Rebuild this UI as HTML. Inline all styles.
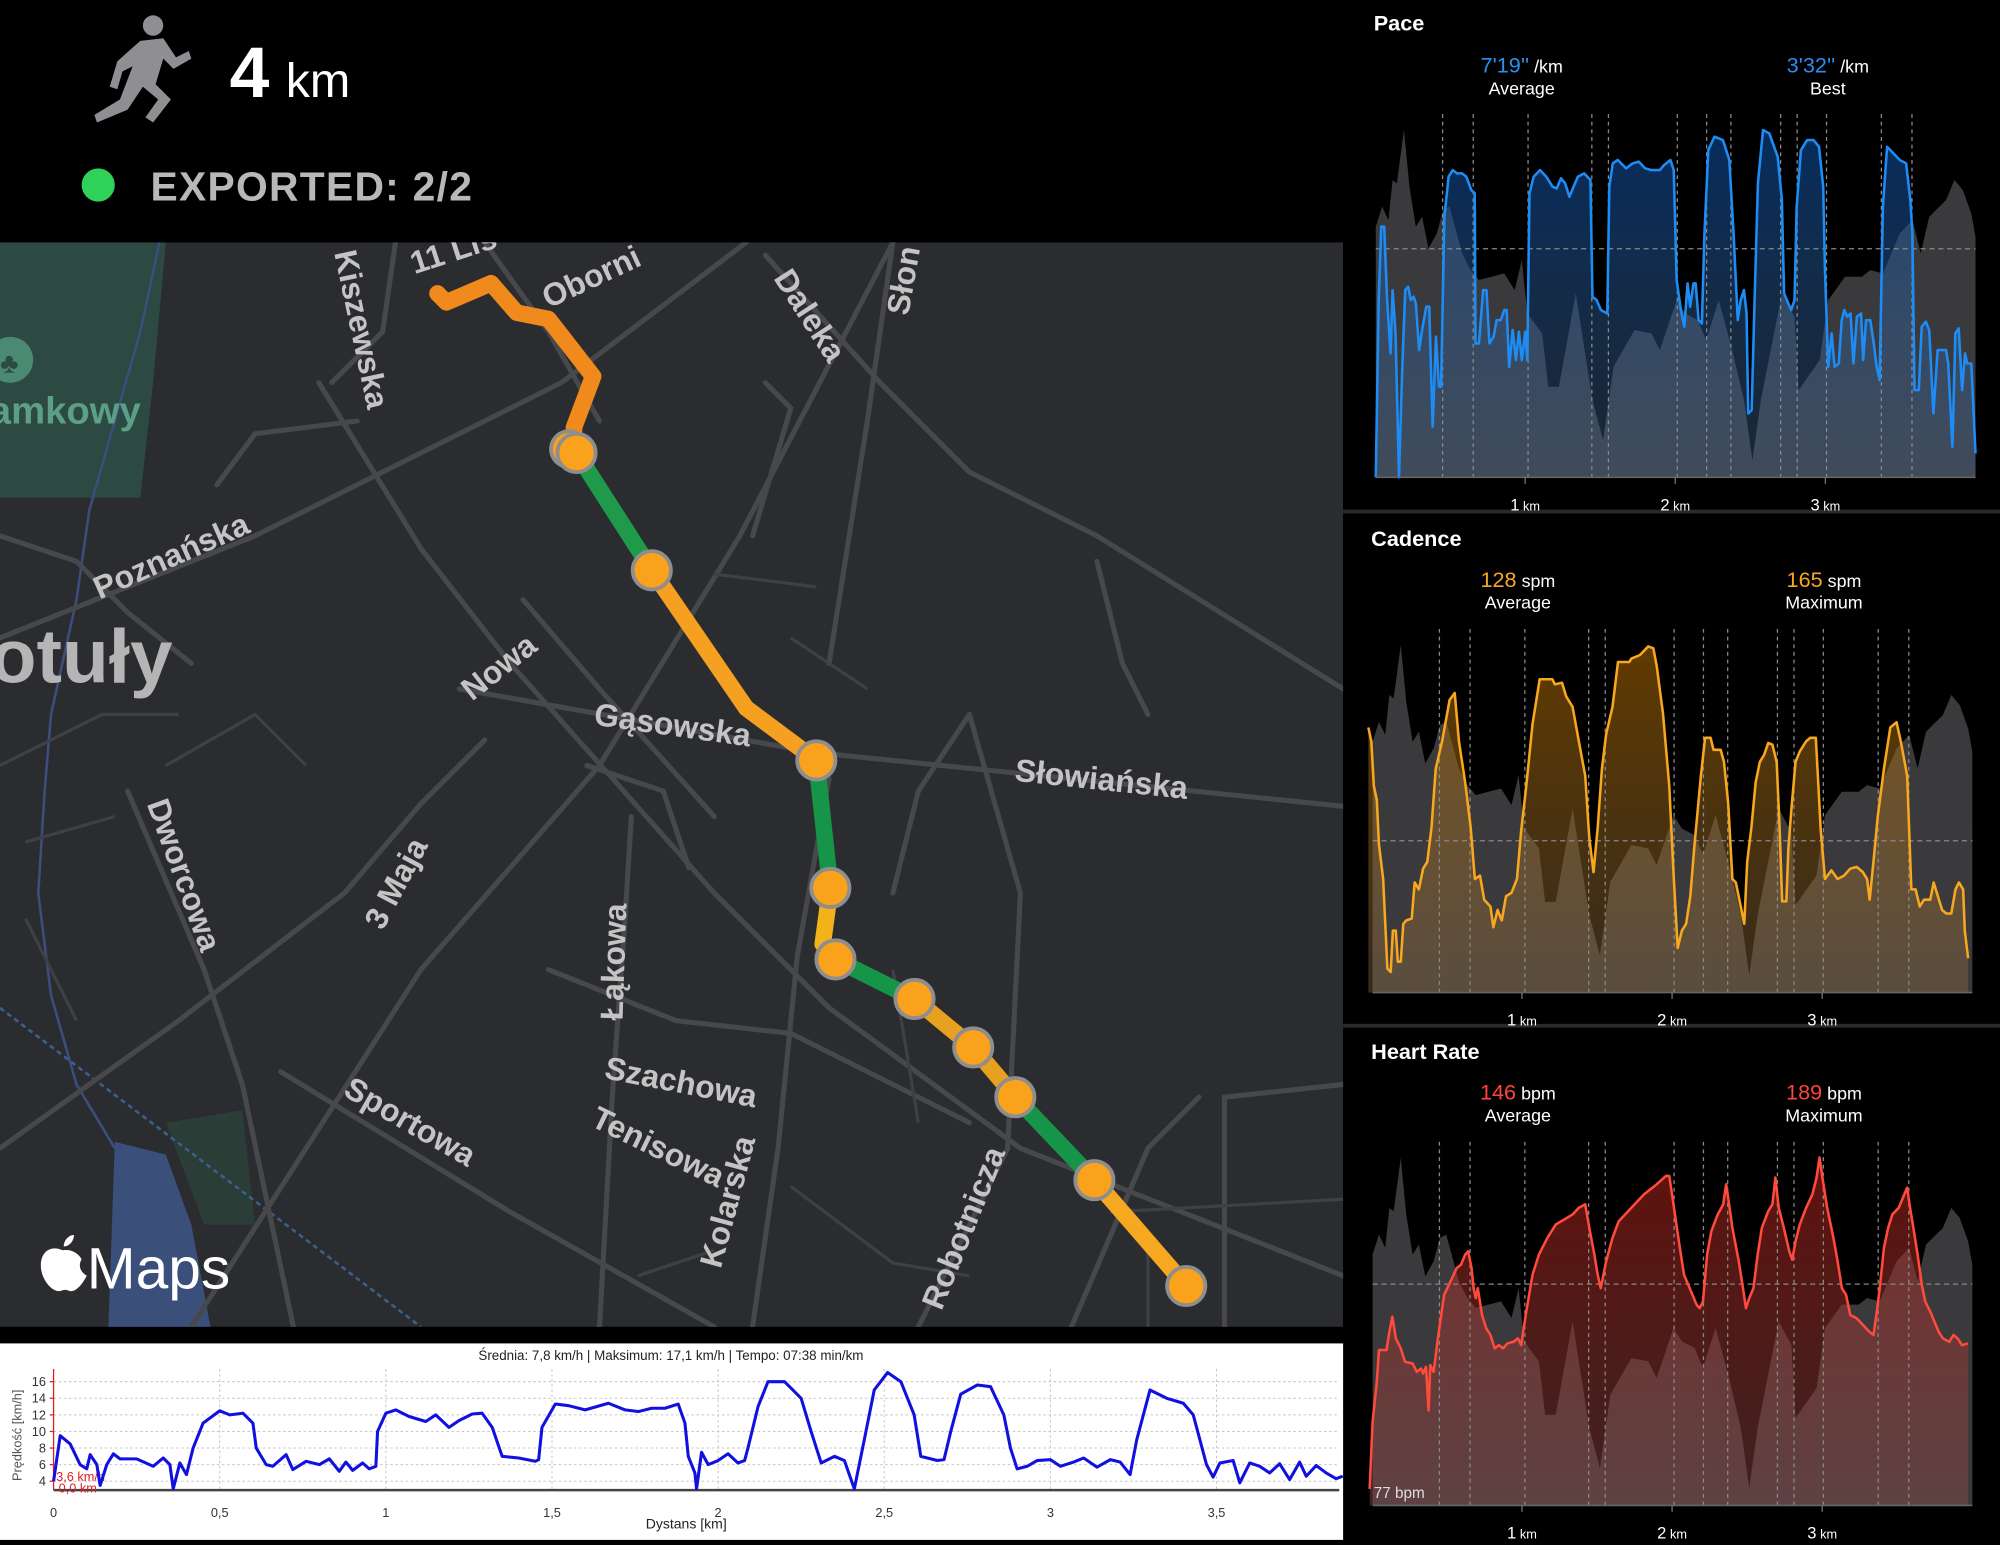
<!DOCTYPE html>
<html><head><meta charset="utf-8">
<style>
html,body{margin:0;padding:0;background:#000;}
body{width:2000px;height:1545px;overflow:hidden;}
svg{display:block;font-family:"Liberation Sans",sans-serif;}
</style></head>
<body>
<svg id="s" width="2000" height="1545" viewBox="0 0 1568 1211" preserveAspectRatio="none" xmlns="http://www.w3.org/2000/svg">
<defs>
<linearGradient id="gb" x1="0" y1="0" x2="0" y2="1"><stop offset="0" stop-color="#0a4a9a" stop-opacity="0.6"/><stop offset="1" stop-color="#4a6a90" stop-opacity="0.35"/></linearGradient>
<linearGradient id="go" x1="0" y1="0" x2="0" y2="1"><stop offset="0" stop-color="#b06a00" stop-opacity="0.55"/><stop offset="1" stop-color="#8a6a40" stop-opacity="0.4"/></linearGradient>
<linearGradient id="gr" x1="0" y1="0" x2="0" y2="1"><stop offset="0" stop-color="#b02018" stop-opacity="0.55"/><stop offset="1" stop-color="#8a4a48" stop-opacity="0.45"/></linearGradient>
<clipPath id="mapclip"><rect x="0" y="190" width="1053" height="850"/></clipPath>
</defs>
<rect width="1568" height="1211" fill="#000"/>
<!-- header -->
<g fill="#8e8e93">
<circle cx="120" cy="20" r="8"/>
<path d="M110 32 L128 30 L138 45 L148 40 L150 46 L136 54 L128 46 L122 66 L134 78 L120 96 L114 92 L124 78 L112 68 L100 86 L76 96 L74 90 L94 78 L104 52 L96 56 L92 70 L86 68 L92 48 Z"/>
</g>
<text x="180" y="76" fill="#fff" font-size="56" font-weight="bold">4</text>
<text x="224" y="76" fill="#fff" font-size="38">km</text>
<circle cx="77" cy="145" r="13" fill="#30d158"/>
<text x="118" y="157" fill="#b8b8b8" font-size="32" font-weight="bold" letter-spacing="1">EXPORTED: 2/2</text>
<!-- map -->
<g clip-path="url(#mapclip)">
<rect x="0" y="190" width="1053" height="850" fill="#2b2c2f"/>
<path d="M0 190 L130 190 L120 300 L110 390 L0 390 Z" fill="#2c4a42"/>
<path d="M90 895 L130 905 L150 960 L165 1040 L85 1040 Z" fill="#3a4f7a"/>
<path d="M130 880 L190 870 L200 960 L160 960 Z" fill="#2a3d36"/>
<g stroke="#3b4e7e" stroke-width="2" fill="none">
<path d="M125 190 L110 260 L90 330 L70 400 L60 470 L40 560 L35 620 L30 700 L40 780 L60 850 L90 900"/>
</g>
<path d="M0 790 L330 1040" stroke="#3d5f8a" stroke-width="2" stroke-dasharray="4 3" fill="none"/>
<g stroke="#46484c" stroke-width="4" fill="none" stroke-linecap="round">
<path d="M0 500 L200 420 L440 300 L585 190"/>
<path d="M150 1040 L330 760 L470 600 L580 420 L700 190"/>
<path d="M360 540 L640 590 L1053 632"/>
<path d="M250 300 L330 430 L400 520 L480 610 L560 700 L650 790 L800 900 L1053 1000"/>
<path d="M100 620 L160 760 L190 850 L230 1040"/>
<path d="M220 840 L400 950 L560 1040"/>
<path d="M410 470 L470 540 L560 640"/>
<path d="M0 900 L140 800 L270 700 L330 630 L380 580"/>
<path d="M720 1040 L790 900 L800 700 L760 560"/>
<path d="M590 1040 L610 900 L625 750 L650 610"/>
<path d="M470 1040 L480 860 L490 720 L495 640"/>
<path d="M700 190 L680 330 L650 520"/>
<path d="M600 200 L690 300 L760 370 L860 420 L1053 540"/>
<path d="M380 190 L430 260 L470 330"/>
<path d="M430 760 L530 800 L620 810 L760 880"/>
<path d="M460 600 L520 620 L540 680"/>
<path d="M260 300 L300 260 L310 190"/>
<path d="M960 1040 L960 860 L1053 850"/>
<path d="M840 1040 L900 900 L940 860"/>
<path d="M170 380 L200 340 L280 330"/>
<path d="M0 420 L60 440 L100 480 L150 520"/>
<path d="M860 440 L880 520 L900 560"/>
<path d="M760 560 L720 620 L700 700"/>
<path d="M600 300 L620 320 L590 420"/>
</g>
<g stroke="#3e4044" stroke-width="2.5" fill="none">
<path d="M0 600 L80 560 L140 560"/><path d="M20 660 L90 640"/><path d="M20 720 L60 800"/>
<path d="M620 930 L700 990 L760 1000"/><path d="M870 950 L1053 940"/><path d="M900 980 L900 1040"/>
<path d="M560 450 L640 460"/><path d="M620 500 L680 540"/><path d="M130 600 L200 560 L240 600"/>
<path d="M700 760 L720 880"/><path d="M500 1000 L560 980"/>
</g>
<!-- route -->
<g fill="none" stroke-linecap="round" stroke-linejoin="round" stroke-width="13">
<path d="M343 230 L350 237 L385 222 L405 245 L430 250 L465 295 L450 335 L450 352" stroke="#f08a1c"/>
<path d="M452 355 L511 447" stroke="#1e9a4a"/>
<path d="M511 447 L585 555 L640 596" stroke="#f5a020"/>
<path d="M640 596 L651 696" stroke="#169448"/>
<path d="M651 696 L645 740 L655 752" stroke="#f2b21a"/>
<path d="M655 752 L717 783" stroke="#169448"/>
<path d="M717 783 L763 821 L796 860" stroke="#e8a020"/>
<path d="M796 860 L858 925" stroke="#169448"/>
<path d="M858 925 L930 1008" stroke="#f5a820"/>
</g>
<g fill="#fba21c" stroke="#8e8e8e" stroke-width="3">
<circle cx="446" cy="352" r="14"/>
<circle cx="452" cy="355" r="15"/><circle cx="511" cy="447" r="15"/><circle cx="640" cy="596" r="15"/>
<circle cx="651" cy="696" r="15"/><circle cx="655" cy="752" r="15"/><circle cx="717" cy="783" r="15"/>
<circle cx="763" cy="821" r="15"/><circle cx="796" cy="860" r="15"/><circle cx="858" cy="925" r="15"/>
<circle cx="930" cy="1008" r="15"/>
</g>
<g fill="#c4c4c4" font-size="25" font-weight="bold">
<text transform="translate(325,215) rotate(-18)">11 Lis</text>
<text transform="translate(430,242) rotate(-25)">Oborni</text>
<text transform="translate(262,198) rotate(78)">Kiszewska</text>
<text transform="translate(606,218) rotate(57)">Daleka</text>
<text transform="translate(712,248) rotate(-80)">Słon</text>
<text transform="translate(78,470) rotate(-24)">Poznańska</text>
<text transform="translate(370,550) rotate(-38)">Nowa</text>
<text transform="translate(465,568) rotate(8)">Gąsowska</text>
<text transform="translate(795,612) rotate(6)">Słowiańska</text>
<text transform="translate(115,630) rotate(70)">Dworcowa</text>
<text transform="translate(300,730) rotate(-62)">3 Maja</text>
<text transform="translate(488,800) rotate(-88)">Łąkowa</text>
<text transform="translate(473,845) rotate(11)">Szachowa</text>
<text transform="translate(462,882) rotate(26)">Tenisowa</text>
<text transform="translate(268,858) rotate(30)">Sportowa</text>
<text transform="translate(565,995) rotate(-75)">Kolarska</text>
<text transform="translate(738,1028) rotate(-68)">Robotnicza</text>
</g>
<text x="-8" y="332" fill="#5c9f86" font-size="30" font-weight="bold">amkowy</text>
<circle cx="8" cy="282" r="18" fill="#4a8a72"/><text x="0" y="292" fill="#2c4a42" font-size="22">♣</text>
<text x="-8" y="535" fill="#b5b5b5" font-size="60" font-weight="bold">otuły</text>
<path d="M49 980 c-8 -4 -17 0 -17 12 c0 10 8 20 14 20 c2 0 3 -1 5 -1 c2 0 3 1 5 1 c5 0 10 -8 12 -12 c-5 -3 -7 -8 -4 -13 c-3 -5 -8 -8 -15 -7 Z M50 977 c0 -5 4 -9 8 -9 c0 5 -4 9 -8 9 Z" fill="#fff"/>
<text x="68" y="1010" fill="#fff" font-size="46">Maps</text>
</g>
<!-- bottom speed chart -->
<rect x="0" y="1053" width="1053" height="154" fill="#fff"/>
<g id="spgrid" stroke="#c8c8c8" stroke-width="0.8" stroke-dasharray="2 2"></g>
<line x1="42" y1="1073" x2="42" y2="1168" stroke="#e02020" stroke-width="1"/>
<line x1="42" y1="1168" x2="1050" y2="1168" stroke="#444" stroke-width="2"/>
<g id="spticks" font-size="10" fill="#333"></g>
<text x="526" y="1066" font-size="10.5" fill="#222" text-anchor="middle">Średnia: 7,8 km/h | Maksimum: 17,1 km/h | Tempo: 07:38 min/km</text>
<text x="538" y="1198" font-size="11" fill="#222" text-anchor="middle">Dystans [km]</text>
<text transform="translate(17,1125) rotate(-90)" font-size="10" fill="#555" text-anchor="middle">Prędkość [km/h]</text>
<text x="44" y="1161" font-size="10" fill="#e02020">3,6 km/h</text>
<text x="46" y="1170" font-size="10" fill="#e02020">0,0 km</text>
<polyline id="spd" fill="none" stroke="#1010e0" stroke-width="2.4" stroke-linejoin="round"/>
<!-- right panels -->
<line x1="1053" y1="401" x2="1568" y2="401" stroke="#2a2a2c" stroke-width="3"/>
<line x1="1053" y1="804" x2="1568" y2="804" stroke="#2a2a2c" stroke-width="3"/>
<g id="panels"></g>
<g font-size="17" font-weight="bold" fill="#fff">
<text x="1077" y="24">Pace</text>
<text x="1075" y="428">Cadence</text>
<text x="1075" y="830">Heart Rate</text>
</g>
<g font-size="14" fill="#fff" text-anchor="middle">
<text x="1193" y="57"><tspan fill="#2a8ff0" font-size="17">7'19''</tspan> /km</text>
<text x="1193" y="74">Average</text>
<text x="1433" y="57"><tspan fill="#2a8ff0" font-size="17">3'32''</tspan> /km</text>
<text x="1433" y="74">Best</text>
<text x="1190" y="460"><tspan fill="#f6a623" font-size="17">128</tspan> spm</text>
<text x="1190" y="477">Average</text>
<text x="1430" y="460"><tspan fill="#f6a623" font-size="17">165</tspan> spm</text>
<text x="1430" y="477">Maximum</text>
<text x="1190" y="862"><tspan fill="#ff453a" font-size="17">146</tspan> bpm</text>
<text x="1190" y="879">Average</text>
<text x="1430" y="862"><tspan fill="#ff453a" font-size="17">189</tspan> bpm</text>
<text x="1430" y="879">Maximum</text>
</g>
<text x="1077" y="1174" font-size="12" fill="#ddd">77 bpm</text>
</svg>
<script>
var NS="http://www.w3.org/2000/svg";
function el(tag,attrs,parent){var e=document.createElementNS(NS,tag);for(var k in attrs)e.setAttribute(k,attrs[k]);(parent||document.getElementById('s')).appendChild(e);return e;}
var sp=[[0,4],[0.02,9.5],[0.05,8.5],[0.08,6],[0.1,5.5],[0.11,7.2],[0.13,6],[0.14,3.5],[0.16,6],[0.18,7.3],[0.2,6.7],[0.25,6.7],[0.3,5.8],[0.33,6.8],[0.35,6],[0.36,2.5],[0.38,6.2],[0.4,4.8],[0.42,8],[0.45,11],[0.5,12.5],[0.53,12],[0.57,12.2],[0.6,11],[0.61,8],[0.64,6],[0.66,5.8],[0.7,7.2],[0.72,5.4],[0.76,6.4],[0.8,6],[0.83,6.7],[0.86,5.2],[0.88,6.3],[0.9,5.3],[0.93,6.2],[0.95,5.5],[0.97,5.8],[0.975,10],[1.0,12.2],[1.03,12.6],[1.07,11.8],[1.12,11.2],[1.15,12],[1.19,10.5],[1.22,11.3],[1.26,12.1],[1.29,12.2],[1.32,10.5],[1.35,7],[1.4,6.8],[1.45,6.4],[1.46,6.6],[1.47,10.5],[1.51,13.3],[1.55,13.1],[1.6,12.6],[1.67,13.4],[1.72,12.6],[1.76,12.4],[1.8,12.8],[1.84,12.8],[1.88,13.3],[1.9,11],[1.91,7],[1.93,5],[1.935,2.5],[1.95,7.5],[1.97,6],[2.0,6.5],[2.03,7.3],[2.06,6.2],[2.08,6.5],[2.09,8],[2.12,13],[2.15,16],[2.2,16],[2.25,14],[2.28,10],[2.31,6.2],[2.35,7],[2.38,6.5],[2.41,3],[2.44,9],[2.47,15],[2.51,17.1],[2.55,16],[2.59,12],[2.61,7],[2.63,6.8],[2.66,6.5],[2.68,6.6],[2.7,10],[2.73,14.5],[2.78,15.6],[2.82,15.4],[2.86,12],[2.88,8],[2.9,5.5],[2.93,5.8],[2.96,6.5],[3.0,6.6],[3.03,5.8],[3.07,6.3],[3.1,6.8],[3.14,5.7],[3.18,6.6],[3.21,6.3],[3.24,4.8],[3.26,9],[3.3,15],[3.35,14],[3.4,13.4],[3.43,12],[3.47,6],[3.49,4.5],[3.51,6.2],[3.55,6.5],[3.57,3.8],[3.6,6.2],[3.63,5.8],[3.66,5],[3.69,6.1],[3.72,4.2],[3.75,6.3],[3.77,4.6],[3.8,5.9],[3.83,5],[3.86,4.3],[3.88,4.6]];
function sx(k){return 42+k*260.5;} function sy(v){return Math.min(1167,1161-(v-4)*6.5);}
document.getElementById('spd').setAttribute('points',sp.map(function(p){return sx(p[0]).toFixed(1)+','+sy(p[1]).toFixed(1)}).join(' '));
var g=document.getElementById('spgrid'),t=document.getElementById('spticks');
for(var v=4;v<=16;v+=2){el('line',{x1:42,x2:1050,y1:sy(v),y2:sy(v)},g);var tx=el('text',{x:36,y:sy(v)+3.5,'text-anchor':'end'},t);tx.textContent=v;el('line',{x1:39,x2:42,y1:sy(v),y2:sy(v),stroke:'#e02020'},t);}
var lab=['0','0,5','1','1,5','2','2,5','3','3,5'];
for(var i=0;i<8;i++){var x=sx(i*0.5);if(i>0)el('line',{x1:x,x2:x,y1:1073,y2:1168},g);var tx=el('text',{x:x,y:1189,'text-anchor':'middle'},t);tx.textContent=lab[i];}
var P=document.getElementById('panels');
var gray=[[85,680],[100,620],[115,660],[125,540],[135,550],[152,390],[165,560],[180,680],[195,650],[210,745],[230,700],[245,630],[260,620],[290,760],[310,810],[330,840],[360,830],[390,820],[415,870],[432,780],[445,940],[480,1000],[495,1160],[520,1160],[560,880],[600,1200],[625,1320],[650,1100],[700,990],[740,1000],[760,1050],[800,900],[820,940],[850,960],[870,1020],[900,900],[930,1040],[960,1200],[980,1380],[1000,1200],[1050,880],[1080,950],[1090,1170],[1140,1080],[1160,900],[1200,830],[1240,830],[1260,810],[1290,820],[1330,700],[1360,660],[1380,760],[1400,650],[1440,600],[1460,540],[1480,570],[1500,640],[1510,710]];
function zx(z,off){return (1340+z/2.376)/1.2755+(off||0);}
var pace=[[85,1432],[92,900],[98,680],[105,680],[112,900],[120,1060],[125,870],[132,1000],[140,1432],[148,1100],[155,870],[162,860],[168,900],[175,890],[180,910],[188,1050],[195,990],[205,920],[212,920],[220,1280],[228,1010],[235,1160],[240,1160],[248,650],[258,530],[268,510],[278,520],[290,520],[300,530],[312,570],[320,580],[322,1030],[330,1030],[340,870],[348,870],[355,1030],[365,1010],[372,960],[382,960],[390,930],[396,930],[402,1100],[410,990],[418,1080],[425,995],[432,1080],[440,995],[445,1080],[450,580],[460,530],[475,510],[490,530],[505,560],[515,565],[525,535],[535,550],[545,590],[555,560],[565,530],[580,520],[595,540],[600,890],[610,900],[620,930],[635,940],[640,560],[648,490],[660,480],[680,505],[695,490],[710,485],[725,505],[740,510],[760,510],[770,495],[785,480],[793,510],[800,840],[810,930],[818,980],[826,850],[832,920],[840,850],[845,850],[852,960],[860,970],[866,700],[875,450],[890,410],[910,420],[925,480],[935,700],[945,960],[952,900],[960,870],[966,940],[970,1240],[978,1230],[985,900],[993,550],[1005,390],[1020,400],[1040,470],[1050,600],[1055,880],[1065,910],[1072,930],[1080,900],[1085,620],[1095,450],[1110,420],[1125,420],[1138,440],[1148,560],[1152,800],[1160,1100],[1168,1000],[1175,1100],[1185,1090],[1192,960],[1198,930],[1205,950],[1213,940],[1220,1090],[1228,950],[1238,940],[1243,1080],[1250,960],[1260,960],[1268,1030],[1275,1100],[1282,1140],[1290,620],[1300,440],[1315,460],[1330,480],[1345,490],[1355,600],[1360,700],[1365,1170],[1375,1170],[1382,980],[1392,965],[1400,990],[1410,1240],[1420,1050],[1430,1050],[1440,1050],[1445,1090],[1455,1340],[1462,1000],[1470,985],[1478,1170],[1485,1060],[1490,1090],[1500,1090],[1510,1360]];
var cad=[[75,660],[82,700],[88,830],[95,870],[100,1000],[110,1100],[120,1360],[128,1370],[133,1250],[140,1250],[145,1340],[152,1340],[158,1230],[165,1220],[178,1215],[185,1110],[195,1130],[205,1070],[215,1050],[225,950],[235,780],[250,700],[268,580],[280,560],[290,700],[305,820],[318,950],[328,1100],[340,1090],[350,1160],[365,1180],[372,1240],[382,1190],[392,1220],[402,1150],[415,1140],[428,1100],[438,960],[450,830],[465,650],[482,520],[512,520],[518,535],[535,530],[545,570],[560,600],[575,700],[590,800],[600,980],[610,1080],[620,950],[630,780],[640,680],[655,600],[668,470],[695,470],[700,460],[720,450],[740,425],[752,430],[760,480],[775,620],[790,830],[800,1080],[810,1300],[820,1250],[830,1230],[840,1150],[850,1000],[865,800],[875,690],[888,690],[895,725],[912,725],[920,760],[930,880],[940,1100],[948,1110],[958,1170],[968,1230],[975,1050],[985,950],[995,820],[1005,760],[1015,740],[1025,705],[1035,710],[1045,760],[1052,950],[1058,1165],[1068,1165],[1073,1010],[1080,900],[1090,760],[1100,730],[1115,700],[1125,690],[1138,690],[1150,960],[1160,1100],[1175,1075],[1190,1100],[1205,1090],[1220,1070],[1235,1065],[1250,1080],[1260,1100],[1266,1160],[1275,1050],[1285,920],[1300,780],[1315,660],[1330,645],[1340,700],[1355,800],[1365,1130],[1375,1130],[1385,1180],[1395,1160],[1410,1160],[1418,1110],[1428,1150],[1438,1190],[1448,1200],[1460,1200],[1470,1130],[1478,1110],[1488,1130],[1492,1250],[1500,1330]];
var hr=[[78,1400],[85,1200],[95,1080],[100,985],[118,985],[125,930],[132,885],[140,950],[152,980],[162,1020],[180,1025],[190,1050],[200,1040],[205,1055],[212,1035],[218,1165],[222,1030],[230,1050],[240,950],[255,820],[270,780],[285,740],[295,730],[305,700],[312,690],[320,740],[325,800],[330,830],[335,800],[345,880],[355,920],[365,940],[375,980],[385,970],[395,980],[405,965],[420,960],[430,950],[438,970],[450,870],[465,760],[480,700],[500,650],[520,610],[540,595],[560,580],[575,560],[590,550],[600,620],[612,700],[620,760],[627,800],[640,720],[655,650],[670,600],[700,560],[730,520],[760,490],[782,465],[790,465],[800,550],[815,680],[825,760],[835,790],[845,820],[855,850],[862,860],[870,840],[880,700],[890,630],[905,580],[918,550],[925,490],[932,550],[940,620],[955,720],[965,800],[972,860],[980,830],[990,800],[1000,700],[1010,620],[1025,570],[1035,550],[1042,470],[1050,560],[1062,620],[1075,690],[1082,715],[1090,660],[1100,610],[1115,560],[1130,520],[1140,470],[1147,410],[1155,480],[1165,560],[1180,650],[1190,720],[1200,800],[1210,820],[1220,880],[1235,890],[1250,910],[1265,930],[1275,940],[1282,880],[1290,800],[1300,680],[1310,620],[1320,580],[1335,560],[1345,530],[1355,500],[1362,560],[1370,620],[1380,700],[1390,790],[1398,840],[1410,870],[1420,900],[1430,930],[1440,950],[1455,960],[1465,940],[1475,950],[1485,970],[1500,965]];
var vl=[1131,1155,1198,1248,1261,1315,1338,1357,1396,1409,1432,1475,1499];
function panel(o){
  var T=o.T,B=o.B,off=o.off;
  var gp=gray.map(function(p){var f=(1432-p[1])/(1432-342);return [zx(p[0],off),B-f*(B-T)];});
  var x0=gp[0][0],x1=zx(1510,off);
  el('path',{d:'M'+x0+','+B+' L'+gp.map(function(p){return p[0].toFixed(1)+','+p[1].toFixed(1)}).join(' L')+' L'+x1+','+B+' Z',fill:'#3a3a3d'},P);
  var lp=o.line.map(function(p){return [zx(p[0],off),o.fy(p[1])];});
  var ld=lp.map(function(p){return p[0].toFixed(1)+','+p[1].toFixed(1)}).join(' L');
  el('path',{d:'M'+lp[0][0]+','+B+' L'+ld+' L'+lp[lp.length-1][0]+','+B+' Z',fill:o.grad},P);
  vl.forEach(function(x){el('line',{x1:x+off,x2:x+off,y1:T,y2:B,stroke:'#8a8a8a','stroke-width':1,'stroke-dasharray':'3 3'},P);});
  el('line',{x1:x0,x2:x1,y1:o.H,y2:o.H,stroke:'#888','stroke-width':1,'stroke-dasharray':'4 3'},P);
  el('path',{d:'M'+ld,fill:'none',stroke:o.col,'stroke-width':2,'stroke-linejoin':'round'},P);
  el('line',{x1:x0,x2:x1,y1:B,y2:B,stroke:'#666','stroke-width':1.2},P);
  [1,2,3].forEach(function(k){var x=1078+off+k*117.7;el('line',{x1:x,x2:x,y1:B,y2:B+5,stroke:'#777'},P);
    var t=el('text',{x:x,y:B+26,fill:'#fff','font-size':13,'text-anchor':'middle'},P);t.innerHTML=k+'<tspan font-size="10"> km</tspan>';});
}
panel({T:89.4,B:374.2,off:0,H:195,line:pace,fy:function(z){return z/3.8265;},grad:'url(#gb)',col:'#1e8cf5'});
panel({T:493,B:778,off:-2.5,H:659,line:cad,fy:function(z){return (500+z/2.904)/1.2755;},grad:'url(#go)',col:'#f7a81e'});
panel({T:895,B:1180,off:-2.5,H:1006.5,line:hr,fy:function(z){return (1020+z/2.987)/1.2755;},grad:'url(#gr)',col:'#ff4a3c'});
</script>
</body></html>
